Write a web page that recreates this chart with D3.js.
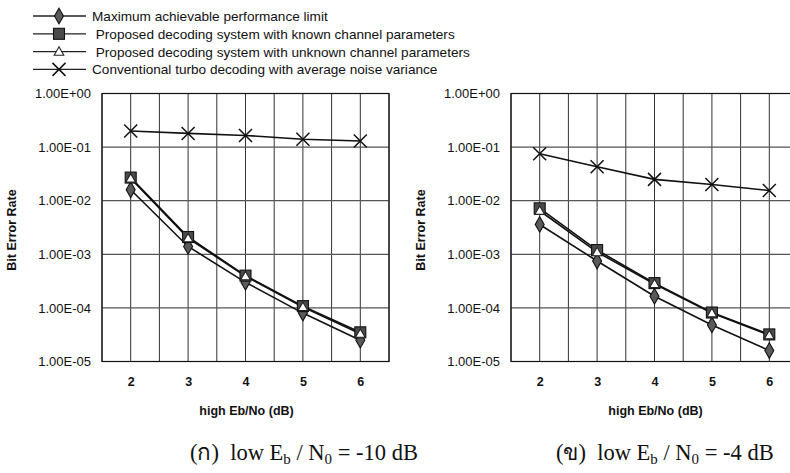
<!DOCTYPE html>
<html>
<head>
<meta charset="utf-8">
<script src="https://cdn.jsdelivr.net/npm/d3@7/dist/d3.min.js"></script>
<style>
  html, body { margin: 0; padding: 0; background: #fff; }
  svg { display: block; }
  .sans { font-family: "Liberation Sans", Arial, Helvetica, sans-serif; fill: #111; }
  .serif { font-family: "Liberation Serif", "Times New Roman", serif; fill: #111; }
</style>
</head>
<body>
<svg id="chart" width="790" height="473"></svg>
<script>
// High Eb/No values (dB) on the horizontal axis
const ebno = [2, 3, 4, 5, 6];

// Bit error rates, panel (ก): low Eb/N0 = -10 dB
const limitA      = [0.016, 0.0014, 0.0003, 0.00008, 0.000025];
const knownA      = [0.027, 0.0021, 0.0004, 0.000108, 0.000035];
const unknownA    = [0.026, 0.002, 0.00039, 0.000104, 0.000033];
const turboA      = [0.2, 0.18, 0.165, 0.14, 0.13];

// Bit error rates, panel (ข): low Eb/N0 = -4 dB
const limitB      = [0.0036, 0.00075, 0.000165, 0.000048, 0.000016];
const knownB      = [0.0072, 0.0012, 0.00029, 0.000082, 0.000032];
const unknownB    = [0.0065, 0.0011, 0.00028, 0.00008, 0.000031];
const turboB      = [0.075, 0.043, 0.025, 0.02, 0.0155];

// Axis ticks
const yTicks      = [1, 1e-1, 1e-2, 1e-3, 1e-4, 1e-5];
const yTickLabels = ["1.00E+00", "1.00E-01", "1.00E-02", "1.00E-03", "1.00E-04", "1.00E-05"];
const xGrid       = [1.5, 2, 2.5, 3, 3.5, 4, 4.5, 5, 5.5, 6, 6.5];

// Legend entries
const seriesNames = [
  "Maximum achievable performance limit",
  " Proposed decoding system with known channel parameters",
  " Proposed decoding system with unknown channel parameters",
  "Conventional turbo decoding with average noise variance"
];
const seriesMarkers = ["diamond", "square", "triangle", "cross"];

const svg = d3.select("#chart");

// Draws one marker of a given kind centred at (0,0) inside group g
function drawMarker(g, kind) {
  if (kind === "diamond") {
    g.append("path")
      .attr("d", d3.symbol(d3.symbolDiamond, 70)())
      .attr("fill", "#5a5a5a").attr("stroke", "#111").attr("stroke-width", 1.1);
  } else if (kind === "square") {
    g.append("rect")
      .attr("x", -5.5).attr("y", -5.5).attr("width", 11).attr("height", 11)
      .attr("fill", "#4a4a4a").attr("stroke", "#111").attr("stroke-width", 1.1);
  } else if (kind === "triangle") {
    g.append("path")
      .attr("d", "M0,-4.8L4.8,3.6L-4.8,3.6Z")
      .attr("fill", "#fff").attr("stroke", "#222").attr("stroke-width", 1.1);
  } else if (kind === "cross") {
    g.append("path")
      .attr("d", "M-6.5,-6.5L6.5,6.5M-6.5,6.5L6.5,-6.5")
      .attr("fill", "none").attr("stroke", "#111").attr("stroke-width", 1.5);
  }
}

// Legend block at the top left
const legend = svg.append("g");
seriesNames.forEach((name, i) => {
  const y = 16 + i * 17.8;
  legend.append("line")
    .attr("x1", 33).attr("x2", 86).attr("y1", y).attr("y2", y)
    .attr("stroke", "#222").attr("stroke-width", 1.3);
  drawMarker(legend.append("g").attr("transform", `translate(59,${y})`), seriesMarkers[i]);
  legend.append("text").attr("class", "sans")
    .attr("x", 92).attr("y", y + 5)
    .style("font-size", "13.6px").style("white-space", "pre")
    .text(name);
});

// One log-scale BER panel
function panel(x0, x1, series, caption, captionX) {
  const top = 93.5, bottom = 361.5;
  const x = d3.scaleLinear().domain([1.5, 6.5]).range([x0, x1]);
  const y = d3.scaleLog().domain([1e-5, 1]).range([bottom, top]);
  const g = svg.append("g");

  // grid
  g.selectAll(".vg").data(xGrid).join("line")
    .attr("x1", d => x(d)).attr("x2", d => x(d))
    .attr("y1", top).attr("y2", bottom)
    .attr("stroke", "#333").attr("stroke-width", 1);
  g.selectAll(".hg").data(yTicks).join("line")
    .attr("x1", x0).attr("x2", x1)
    .attr("y1", d => y(d)).attr("y2", d => y(d))
    .attr("stroke", "#555").attr("stroke-width", 1.2);

  // y axis labels
  const ya = g.append("g").attr("transform", `translate(${x0},0)`)
    .call(d3.axisLeft(y).tickValues(yTicks)
      .tickFormat(d => yTickLabels[yTicks.indexOf(d)])
      .tickSize(0).tickPadding(11));
  ya.select(".domain").remove();
  ya.selectAll("text").attr("class", "sans").attr("fill", "#111")
    .style("font-size", "13px");

  // x axis labels
  const xa = g.append("g").attr("transform", `translate(0,${bottom})`)
    .call(d3.axisBottom(x).tickValues(ebno).tickFormat(d3.format("d"))
      .tickSize(0).tickPadding(16));
  xa.select(".domain").remove();
  xa.selectAll("text").attr("class", "sans").attr("fill", "#111")
    .style("font-size", "12.5px").style("font-weight", "bold");

  // axis titles
  g.append("text").attr("class", "sans")
    .attr("transform", `translate(${x0 - 86},230) rotate(-90)`)
    .attr("text-anchor", "middle")
    .style("font-size", "12.5px").style("font-weight", "bold")
    .text("Bit Error Rate");
  g.append("text").attr("class", "sans")
    .attr("x", (x(2) + x(6)) / 2 + 1).attr("y", 415)
    .attr("text-anchor", "middle")
    .style("font-size", "12.5px").style("font-weight", "bold")
    .text("high Eb/No (dB)");

  // series lines then markers
  const line = d3.line().x((d, i) => x(ebno[i])).y(d => y(d));
  series.forEach(s => {
    g.append("path").datum(s.values)
      .attr("d", line).attr("fill", "none")
      .attr("stroke", "#111").attr("stroke-width", 1.6);
  });
  series.forEach(s => {
    s.values.forEach((v, i) => {
      drawMarker(g.append("g").attr("transform", `translate(${x(ebno[i])},${y(v)})`), s.marker);
    });
  });

  // frame
  g.append("rect").attr("x", x0).attr("y", top)
    .attr("width", x1 - x0).attr("height", bottom - top)
    .attr("fill", "none").attr("stroke", "#111").attr("stroke-width", 1.2);

  // caption below the panel
  const t = svg.append("text").attr("class", "serif")
    .attr("x", captionX).attr("y", 460)
    .style("font-size", "22.5px").style("white-space", "pre");
  t.append("tspan").text(caption.label + "  low E");
  t.append("tspan").attr("dy", 4).style("font-size", "15px").text("b");
  t.append("tspan").attr("dy", -4).text(" / N");
  t.append("tspan").attr("dy", 4).style("font-size", "15px").text("0");
  t.append("tspan").attr("dy", -4).text(" = " + caption.value + " dB");
}

panel(102, 389, [
  { values: turboA,   marker: "cross" },
  { values: limitA,   marker: "diamond" },
  { values: knownA,   marker: "square" },
  { values: unknownA, marker: "triangle" }
], { label: "(ก)", value: "-10" }, 190);

panel(511, 798, [
  { values: turboB,   marker: "cross" },
  { values: limitB,   marker: "diamond" },
  { values: knownB,   marker: "square" },
  { values: unknownB, marker: "triangle" }
], { label: "(ข)", value: "-4" }, 556);
</script>
</body>
</html>
